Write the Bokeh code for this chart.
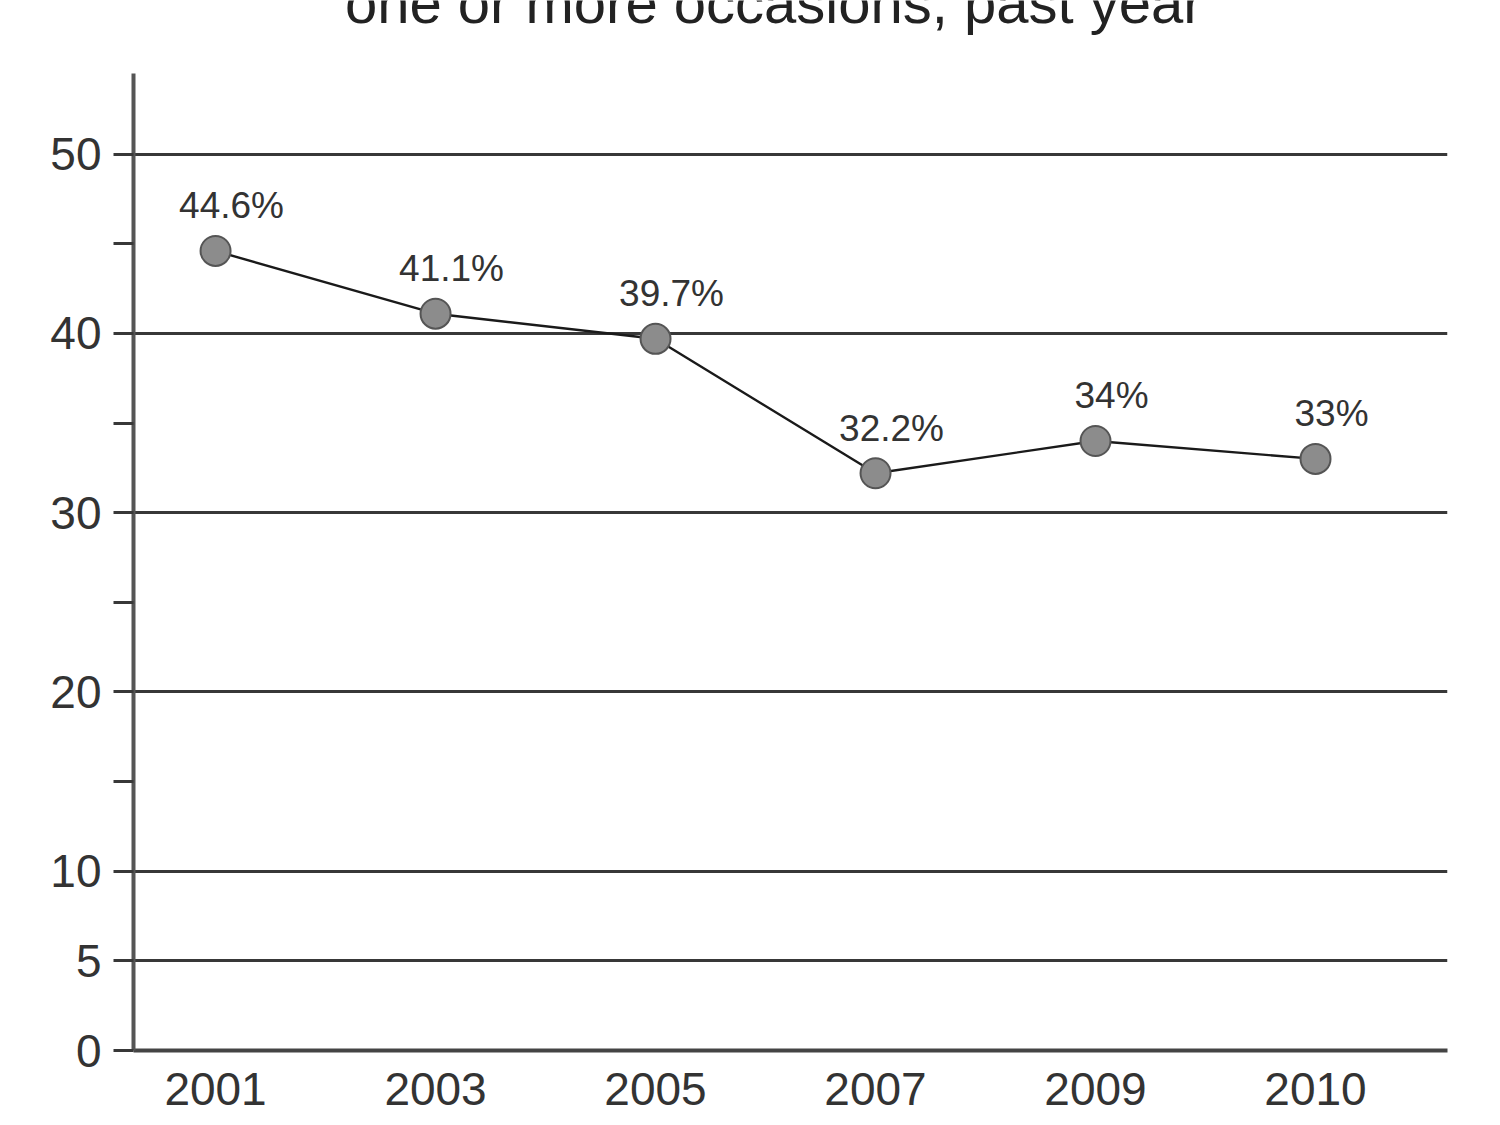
from bokeh.plotting import figure
from bokeh.models import FixedTicker, Range1d, ColumnDataSource, Label
from bokeh.layouts import column
from bokeh.core.properties import value
from bokeh.embed import file_html
from bokeh.resources import INLINE

years = ["2001", "2003", "2005", "2007", "2009", "2010"]
pct = [44.6, 41.1, 39.7, 32.2, 34, 33]
pct_labels = ["44.6%", "41.1%", "39.7%", "32.2%", "34%", "33%"]
y_ticks = [0, 5, 10, 15, 20, 25, 30, 35, 40, 45, 50]
y_labelled = [0, 5, 10, 20, 30, 40, 50]
grid_values = [5, 10, 20, 30, 40, 50]
title_text = "one or more occasions, past year"

FONT = "Liberation Sans"
W = 1490
idx = list(range(len(years)))
src = ColumnDataSource(dict(x=idx, y=pct, t=pct_labels))

# top strip holding the (cut-off) title
top = figure(width=W, height=40, output_backend="svg", toolbar_location=None,
             x_range=Range1d(0, W), y_range=Range1d(0, 40),
             min_border_left=0, min_border_right=0, min_border_top=0, min_border_bottom=0)
top.axis.visible = False
top.grid.visible = False
top.outline_line_color = None
top.add_layout(Label(x=726, y=38, text=title_text, text_font=FONT, text_font_size="58px",
                     text_color="#222222", text_align="center", text_baseline="alphabetic"))

p = figure(width=W, height=1075, output_backend="svg", toolbar_location=None,
           x_range=Range1d(-0.373, 5.6), y_range=Range1d(0, 54.5),
           min_border_left=133, min_border_top=33, min_border_right=43, min_border_bottom=65)
p.outline_line_color = None
p.background_fill_color = "white"
p.border_fill_color = "white"

# grid
p.xgrid.grid_line_color = None
p.ygrid.ticker = FixedTicker(ticks=grid_values)
p.ygrid.grid_line_color = "#383838"
p.ygrid.grid_line_width = 3

# y axis
ya = p.yaxis[0]
ya.ticker = FixedTicker(ticks=y_ticks)
ya.major_label_overrides = {v: (str(v) if v in y_labelled else "") for v in y_ticks}
ya.axis_line_color = "#555555"
ya.axis_line_width = 4
ya.major_tick_line_color = "#383838"
ya.major_tick_line_width = 3
ya.major_tick_out = 20
ya.major_tick_in = 0
ya.minor_tick_line_color = None
ya.major_label_standoff = 12
ya.major_label_text_font = FONT
ya.major_label_text_font_size = "46px"
ya.major_label_text_color = "#333333"

# x axis
xa = p.xaxis[0]
xa.ticker = FixedTicker(ticks=idx)
xa.major_label_overrides = {i: y for i, y in zip(idx, years)}
xa.axis_line_color = "#444444"
xa.axis_line_width = 4
xa.major_tick_line_color = None
xa.minor_tick_line_color = None
xa.major_label_standoff = 16
xa.major_label_text_font = FONT
xa.major_label_text_font_size = "46px"
xa.major_label_text_color = "#333333"

p.line("x", "y", source=src, line_color="#1a1a1a", line_width=2.4)
p.scatter("x", "y", source=src, size=30, fill_color="#8c8c8c", line_color="#555555", line_width=2)
p.text("x", "y", text="t", source=src, text_font=value(FONT), text_font_size="37px",
       text_color="#333333", text_align="center", text_baseline="alphabetic",
       x_offset=16, y_offset=-45)

layout = column(top, p, spacing=0)
open("out.html", "w").write(file_html(layout, INLINE))
